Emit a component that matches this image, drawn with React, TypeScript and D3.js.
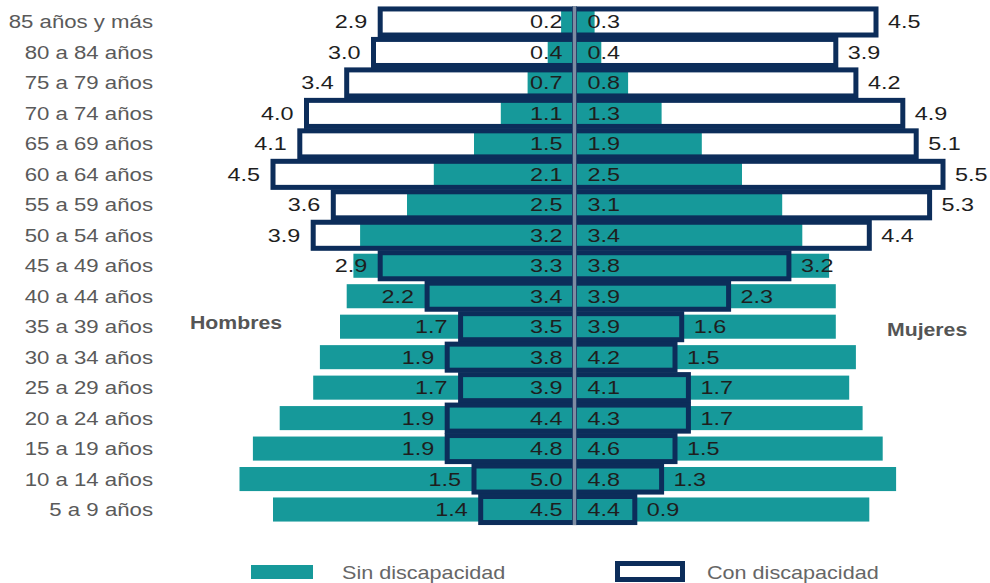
import React from "react";
import * as d3 from "d3";

const ages = [
  "85 años y más", "80 a 84 años", "75 a 79 años", "70 a 74 años", "65 a 69 años",
  "60 a 64 años", "55 a 59 años", "50 a 54 años", "45 a 49 años", "40 a 44 años",
  "35 a 39 años", "30 a 34 años", "25 a 29 años", "20 a 24 años", "15 a 19 años",
  "10 a 14 años", "5 a 9 años",
];
const hombresCon = [2.9, 3.0, 3.4, 4.0, 4.1, 4.5, 3.6, 3.9, 2.9, 2.2, 1.7, 1.9, 1.7, 1.9, 1.9, 1.5, 1.4];
const hombresSin = [0.2, 0.4, 0.7, 1.1, 1.5, 2.1, 2.5, 3.2, 3.3, 3.4, 3.5, 3.8, 3.9, 4.4, 4.8, 5.0, 4.5];
const mujeresSin = [0.3, 0.4, 0.8, 1.3, 1.9, 2.5, 3.1, 3.4, 3.8, 3.9, 3.9, 4.2, 4.1, 4.3, 4.6, 4.8, 4.4];
const mujeresCon = [4.5, 3.9, 4.2, 4.9, 5.1, 5.5, 5.3, 4.4, 3.2, 2.3, 1.6, 1.5, 1.7, 1.7, 1.5, 1.3, 0.9];
const legendLabels = ["Sin discapacidad", "Con discapacidad"];
const sideLabels = ["Hombres", "Mujeres"];

const W = 990;
const H = 583;
const CX = 574.5;
const K = 67;
const TEAL = "#16999a";
const NAVY = "#0c2d5a";
const FONT = "'Liberation Sans', Arial, Helvetica, sans-serif";
const SX = 1.2;

export default function App() {
  const xL = d3.scaleLinear().domain([0, 6]).range([CX, CX - 6 * K]);
  const xR = d3.scaleLinear().domain([0, 6]).range([CX, CX + 6 * K]);
  const y = d3.scaleBand<string>().domain(ages).range([6.75, 524.75]).padding(0);
  const bw = y.bandwidth();
  const tealH = bw * 0.79;
  const conH = bw * 0.855;
  const SW = 5;
  const cy = (a: string) => (y(a) as number) + bw / 2;

  const txt = (
    x: number,
    yy: number,
    s: string,
    anchor: string,
    opts: { size?: number; fill?: string; weight?: string; sx?: number } = {}
  ) => (
    <text
      transform={`translate(${x},${yy}) scale(${opts.sx ?? SX},1)`}
      textAnchor={anchor}
      fontFamily={FONT}
      fontSize={opts.size ?? 18}
      fill={opts.fill ?? "#1e1e1e"}
      fontWeight={opts.weight ?? "normal"}
    >
      {s}
    </text>
  );

  return (
    <svg
      width={W}
      height={H}
      style={{ position: "absolute", left: 0, top: 0, background: "#fff" }}
    >
      {/* con discapacidad white fill */}
      {ages.map((a, i) => (
        <g key={"cw" + a}>
          <rect x={xL(hombresCon[i])} y={cy(a) - conH / 2} width={CX - xL(hombresCon[i])} height={conH} fill="#fff" />
          <rect x={CX} y={cy(a) - conH / 2} width={xR(mujeresCon[i]) - CX} height={conH} fill="#fff" />
        </g>
      ))}
      {/* sin discapacidad teal */}
      {ages.map((a, i) => (
        <g key={"s" + a}>
          <rect x={xL(hombresSin[i])} y={cy(a) - tealH / 2} width={CX - xL(hombresSin[i])} height={tealH} fill={TEAL} />
          <rect x={CX} y={cy(a) - tealH / 2} width={xR(mujeresSin[i]) - CX} height={tealH} fill={TEAL} />
        </g>
      ))}
      {/* con discapacidad outline */}
      {ages.map((a, i) => (
        <g key={"co" + a}>
          <rect x={xL(hombresCon[i])} y={cy(a) - conH / 2} width={CX - xL(hombresCon[i])} height={conH} fill="none" stroke={NAVY} strokeWidth={SW} />
          <rect x={CX} y={cy(a) - conH / 2} width={xR(mujeresCon[i]) - CX} height={conH} fill="none" stroke={NAVY} strokeWidth={SW} />
        </g>
      ))}
      {/* center line */}
      <line x1={CX} x2={CX} y1={6} y2={525} stroke="#7d8ca2" strokeWidth={3.5} />

      {/* age labels */}
      {ages.map((a) => (
        <g key={"al" + a}>{txt(153, cy(a) + 6.5, a, "end", { size: 18.5, fill: "#5a5a5a" })}</g>
      ))}

      {/* value labels */}
      {ages.map((a, i) => (
        <g key={"vl" + a}>
          {txt(CX - 12, cy(a) + 6.5, hombresSin[i].toFixed(1), "end", { sx: 1.3 })}
          {txt(CX + 13, cy(a) + 6.5, mujeresSin[i].toFixed(1), "start", { sx: 1.3 })}
          {txt(xL(hombresCon[i]) - 13, cy(a) + 6.5, hombresCon[i].toFixed(1), "end", { sx: 1.3 })}
          {txt(xR(mujeresCon[i]) + 12, cy(a) + 6.5, mujeresCon[i].toFixed(1), "start", { sx: 1.3 })}
        </g>
      ))}

      {/* side labels */}
      {txt(190, 329, sideLabels[0], "start", { weight: "bold", fill: "#555", sx: 1.18 })}
      {txt(887, 336, sideLabels[1], "start", { weight: "bold", fill: "#555", sx: 1.18 })}

      {/* legend */}
      <rect x={251} y={565} width={62} height={14} fill={TEAL} />
      {txt(342, 579, legendLabels[0], "start", { fill: "#666" })}
      <rect x={617.5} y={563.5} width={65} height={16} fill="#fff" stroke={NAVY} strokeWidth={5} />
      {txt(707, 579, legendLabels[1], "start", { fill: "#666" })}
    </svg>
  );
}
